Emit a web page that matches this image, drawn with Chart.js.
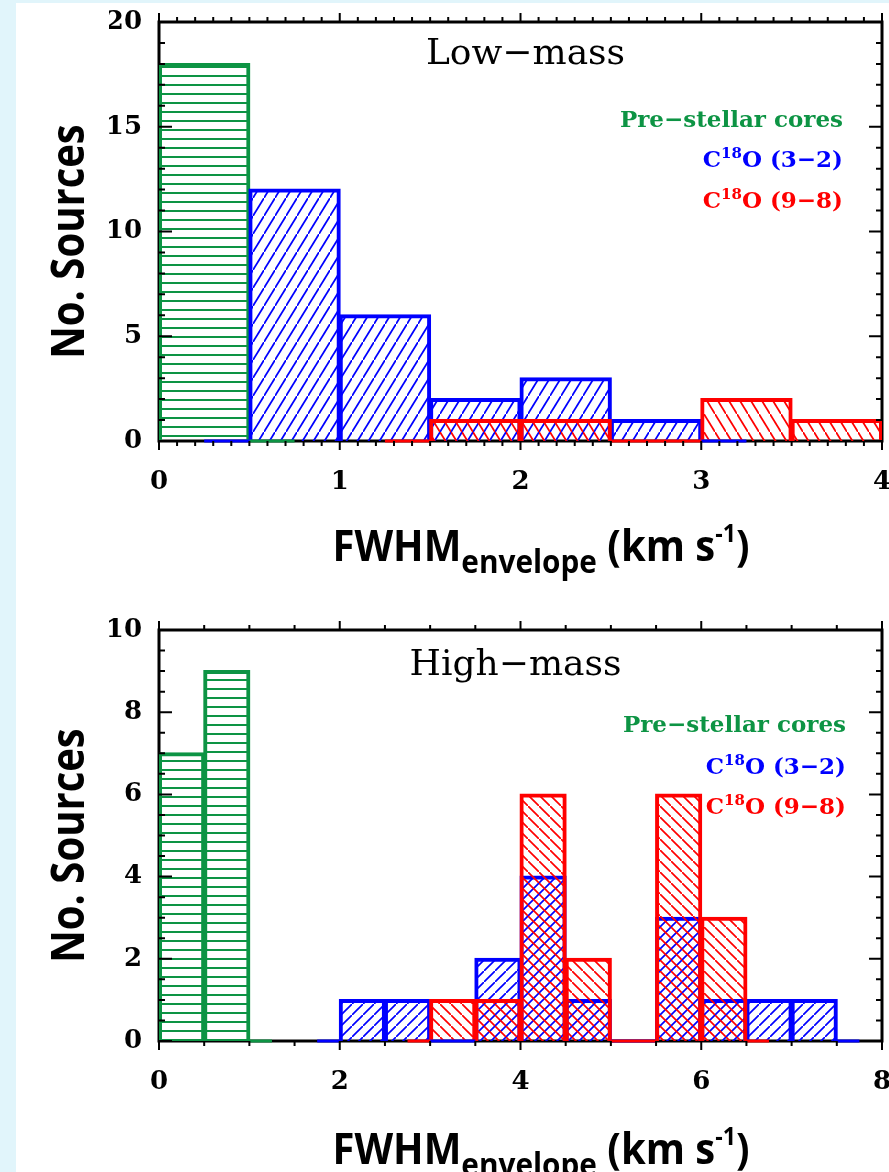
<!DOCTYPE html>
<html>
<head>
<meta charset="utf-8">
<script src="https://cdn.jsdelivr.net/npm/chart.js@4.4.0/dist/chart.umd.min.js"></script>
<style>
html, body { margin: 0; padding: 0; background: #e1f5fb; }
#page { position: absolute; left: 16px; top: 3px; width: 873px; height: 1169px; background: #fff; }
.plot { position: absolute; left: 0; width: 889px; height: 586px; }
#lowBox { top: 0; }
#highBox { top: 586px; }
</style>
</head>
<body>
<div id="page"></div>
<div class="plot" id="lowBox"><canvas id="lowChart" width="889" height="586"></canvas></div>
<div class="plot" id="highBox"><canvas id="highChart" width="889" height="586"></canvas></div>
<script>
// bin centres (0.5 km/s bins) and counts per bin
var lowCenters = [0.25, 0.75, 1.25, 1.75, 2.25, 2.75, 3.25, 3.75];
var lowPrestellar = [18, 0, 0, 0, 0, 0, 0, 0];
var lowC18O32 = [0, 12, 6, 2, 3, 1, 0, 0];
var lowC18O98 = [0, 0, 0, 1, 1, 0, 2, 1];
var lowXTicks = [0, 1, 2, 3, 4];
var lowYTicks = [0, 5, 10, 15, 20];

var highCenters = [0.25, 0.75, 1.25, 1.75, 2.25, 2.75, 3.25, 3.75,
                   4.25, 4.75, 5.25, 5.75, 6.25, 6.75, 7.25, 7.75];
var highPrestellar = [7, 9, 0, 0, 0, 0, 0, 0, 0, 0, 0, 0, 0, 0, 0, 0];
var highC18O32 = [0, 0, 0, 0, 1, 1, 0, 2, 4, 1, 0, 3, 1, 1, 1, 0];
var highC18O98 = [0, 0, 0, 0, 0, 0, 1, 1, 6, 2, 0, 6, 3, 0, 0, 0];
var highXTicks = [0, 2, 4, 6, 8];
var highYTicks = [0, 2, 4, 6, 8, 10];

var seriesLabels = ['Pre\u2212stellar cores', 'C^18O (3\u22122)', 'C^18O (9\u22128)'];
var panelTitles = ['Low\u2212mass', 'High\u2212mass'];
var yTitle = 'No. Sources';
var xTitle = ['FWHM', 'envelope', ' (km s', '-1', ')'];

var green = '#0d9444';
var blue = '#0000ff';
var red = '#ff0000';

function hatch(ctx, color, kind, w, h) {
    var c = document.createElement('canvas');
    c.width = w;
    c.height = h;
    var g = c.getContext('2d');
    g.strokeStyle = color;
    g.lineWidth = 1.7;
    g.beginPath();
    if (kind === 'h') {
        g.lineWidth = 2;
        g.moveTo(0, 4); g.lineTo(w, 4);
    } else if (kind === '/') {
        g.moveTo(-w, 2 * h); g.lineTo(2 * w, -h);
    } else {
        g.moveTo(-w, -h); g.lineTo(2 * w, 2 * h);
    }
    g.stroke();
    return ctx.createPattern(c, 'repeat');
}

function histData(centers, counts) {
    var pts = [];
    for (var i = 0; i < centers.length; i++) {
        if (counts[i] > 0) pts.push({x: centers[i], y: counts[i]});
    }
    return pts;
}

function drawSupText(ctx, text, xRight, y, font, supFont) {
    var parts = text.split(/\^(\d+)/);
    var total = 0, widths = [];
    for (var i = 0; i < parts.length; i++) {
        ctx.font = (i % 2) ? supFont : font;
        widths.push(ctx.measureText(parts[i]).width);
        total += widths[i];
    }
    var x = xRight - total;
    for (i = 0; i < parts.length; i++) {
        ctx.font = (i % 2) ? supFont : font;
        ctx.fillText(parts[i], x, (i % 2) ? y - 9 : y);
        x += widths[i];
    }
}

function drawRuns(ctx, runs, cx, y, sx) {
    var total = 0;
    runs.forEach(function(r) {
        ctx.font = r.font;
        r.w = ctx.measureText(r.text).width * sx;
        total += r.w;
    });
    var x = cx - total / 2;
    runs.forEach(function(r) {
        ctx.save();
        ctx.font = r.font;
        ctx.translate(x, y + (r.dy || 0));
        ctx.scale(sx, 1);
        ctx.fillText(r.text, 0, 0);
        ctx.restore();
        x += r.w;
    });
}

var idlPlugin = {
    id: 'idl',
    beforeDatasetsDraw: function(chart) {
        var a = chart.chartArea, ctx = chart.ctx;
        ctx.save();
        ctx.strokeStyle = '#000';
        ctx.lineWidth = 3;
        ctx.strokeRect(a.left, a.top, a.right - a.left, a.bottom - a.top);
        ctx.restore();
    },
    afterDatasetsDraw: function(chart, args, o) {
        var ctx = chart.ctx, a = chart.chartArea;
        var xs = chart.scales.x, ys = chart.scales.y;
        var y0 = ys.getPixelForValue(0);
        ctx.save();
        // zero-count stretches of each histogram outline run along the axis
        ctx.lineWidth = 3;
        chart.data.datasets.forEach(function(ds) {
            var c = ds.counts, ctr = ds.centers, bw = ctr[1] - ctr[0];
            var first = -1, last = -1;
            for (var i = 0; i < c.length; i++) {
                if (c[i] > 0) { if (first < 0) first = i; last = i; }
            }
            var runs = [[ctr[first] - bw, ctr[first] - bw / 2], [ctr[last] + bw / 2, ctr[last] + bw]];
            for (i = first; i <= last; i++) {
                if (c[i] === 0) runs.push([ctr[i] - bw / 2, ctr[i] + bw / 2]);
            }
            ctx.strokeStyle = ds.borderColor;
            runs.forEach(function(r) {
                var x1 = Math.max(r[0], xs.min), x2 = Math.min(r[1], xs.max);
                if (x2 <= x1) return;
                ctx.beginPath();
                ctx.moveTo(xs.getPixelForValue(x1), y0);
                ctx.lineTo(xs.getPixelForValue(x2), y0);
                ctx.stroke();
            });
        });
        // tick marks: x outward, y inward, on all four sides
        ctx.strokeStyle = '#000';
        ctx.lineWidth = 2;
        var xMaj = xs.ticks.map(function(t) { return t.value; });
        var yMaj = ys.ticks.map(function(t) { return t.value; });
        var isMaj = function(list, v) {
            return list.some(function(m) { return Math.abs(m - v) < 1e-6; });
        };
        ctx.beginPath();
        for (var i = 0; ; i++) {
            var v = xs.min + i * o.xMinor;
            if (v > xs.max + 1e-6) break;
            var len = isMaj(xMaj, v) ? 9 : 5;
            var px = xs.getPixelForValue(v);
            ctx.moveTo(px, a.bottom); ctx.lineTo(px, a.bottom + len);
            ctx.moveTo(px, a.top); ctx.lineTo(px, a.top - len);
        }
        for (i = 0; ; i++) {
            v = ys.min + i * o.yMinor;
            if (v > ys.max + 1e-6) break;
            len = isMaj(yMaj, v) ? 13 : 6;
            var py = ys.getPixelForValue(v);
            ctx.moveTo(a.left, py); ctx.lineTo(a.left + len, py);
            ctx.moveTo(a.right, py); ctx.lineTo(a.right - len, py);
        }
        ctx.stroke();
        ctx.restore();
    },
    afterDraw: function(chart, args, o) {
        var ctx = chart.ctx, a = chart.chartArea;
        ctx.save();
        ctx.textBaseline = 'alphabetic';
        // panel title
        ctx.fillStyle = '#000';
        ctx.textAlign = 'center';
        ctx.font = '36px "DejaVu Serif"';
        ctx.fillText(o.title, (a.left + a.right) / 2 + o.titleDx, a.top + o.titleDy);
        // legend text, right aligned
        ctx.textAlign = 'left';
        chart.data.datasets.forEach(function(ds, k) {
            ctx.fillStyle = ds.borderColor;
            drawSupText(ctx, ds.label, a.right - o.legendRight, a.top + o.legendY[k],
                        'bold 23px "DejaVu Serif"', 'bold 15px "DejaVu Serif"');
        });
        // axis titles
        ctx.fillStyle = '#000';
        ctx.save();
        ctx.translate(84, (a.top + a.bottom) / 2 + 10);
        ctx.rotate(-Math.PI / 2);
        drawRuns(ctx, [{text: yTitle, font: 'bold 46px "Open Sans"'}], 0, 0, 0.87);
        ctx.restore();
        var mainF = 'bold 43px "Open Sans"';
        drawRuns(ctx, [
            {text: xTitle[0], font: mainF},
            {text: xTitle[1], font: 'bold 32px "Open Sans"', dy: 12},
            {text: xTitle[2], font: mainF},
            {text: xTitle[3], font: 'bold 25px "Open Sans"', dy: -19},
            {text: xTitle[4], font: mainF}
        ], 541, a.bottom + o.xTitleDy, 0.93);
        ctx.restore();
    }
};

function renderPanel(id, centers, counts, xTicks, yTicks, xMax, yMax, hatchH, pad, extra) {
    var ctx = document.getElementById(id).getContext('2d');
    var colors = [green, blue, red];
    var fills = [
        hatch(ctx, green, 'h', 8, 9),
        hatch(ctx, blue, '/', 11, hatchH),
        hatch(ctx, red, '\\', 11, hatchH)
    ];
    var datasets = [];
    for (var k = 0; k < 3; k++) {
        datasets.push({
            label: seriesLabels[k],
            data: histData(centers, counts[k]),
            counts: counts[k],
            centers: centers,
            backgroundColor: fills[k],
            borderColor: colors[k],
            borderWidth: 2,
            borderSkipped: 'start',
            inflateAmount: 1,
            barPercentage: 1,
            categoryPercentage: 1,
            grouped: false,
            order: 2 - k
        });
    }
    var tickFont = {family: 'DejaVu Serif', size: 26, weight: 'bold'};
    return new Chart(ctx, {
        type: 'bar',
        data: {datasets: datasets},
        options: {
            responsive: false,
            animation: false,
            devicePixelRatio: 1,
            layout: {padding: pad},
            plugins: {
                legend: {display: false},
                tooltip: {enabled: false},
                idl: extra
            },
            scales: {
                x: {
                    type: 'linear', min: 0, max: xMax, offset: false,
                    grid: {display: false}, border: {display: false},
                    afterBuildTicks: function(s) { s.ticks = xTicks.map(function(v) { return {value: v}; }); },
                    ticks: {font: tickFont, color: '#000', padding: 18, maxRotation: 0, autoSkip: false},
                    afterFit: function(s) { s.height = 80; s.paddingLeft = 0; s.paddingRight = 0; }
                },
                y: {
                    min: 0, max: yMax,
                    grid: {display: false}, border: {display: false},
                    afterBuildTicks: function(s) { s.ticks = yTicks.map(function(v) { return {value: v}; }); },
                    ticks: {font: tickFont, color: '#000', padding: 9, autoSkip: false},
                    afterFit: function(s) { s.width = 50; s.paddingTop = 0; s.paddingBottom = 0; }
                }
            }
        },
        plugins: [idlPlugin]
    });
}

renderPanel('lowChart', lowCenters, [lowPrestellar, lowC18O32, lowC18O98],
    lowXTicks, lowYTicks, 4, 20, 18,
    {left: 109, right: 7, top: 22, bottom: 65},
    {title: panelTitles[0], titleDx: 5, titleDy: 42, legendRight: 39, legendY: [105, 145, 186],
     xMinor: 0.1, yMinor: 1, xTitleDy: 120});

renderPanel('highChart', highCenters, [highPrestellar, highC18O32, highC18O98],
    highXTicks, highYTicks, 8, 10, 11,
    {left: 109, right: 7, top: 44, bottom: 51},
    {title: panelTitles[1], titleDx: -5, titleDy: 45, legendRight: 36, legendY: [102, 144, 184],
     xMinor: 0.5, yMinor: 0.5, xTitleDy: 123});
</script>
</body>
</html>
